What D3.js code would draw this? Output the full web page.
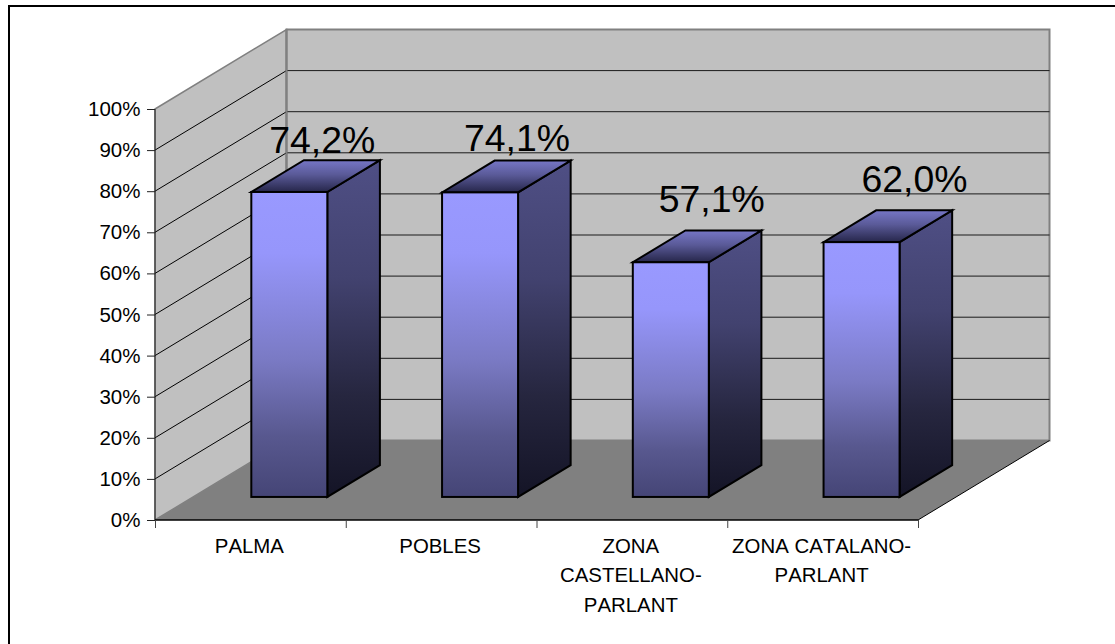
<!DOCTYPE html>
<html><head><meta charset="utf-8">
<script src="https://cdn.jsdelivr.net/npm/d3@7"></script>
<style>html,body{margin:0;padding:0;background:#fff;overflow:hidden}svg{display:block}text{font-family:"Liberation Sans",Arial,sans-serif;fill:#000;font-kerning:none}</style>
</head><body>
<svg id="c" width="1115" height="644"></svg>
<script>
const categories = ["PALMA","POBLES","ZONA CASTELLANO-PARLANT","ZONA CATALANO-PARLANT"];
const categoryLines = [["PALMA"],["POBLES"],["ZONA","CASTELLANO-","PARLANT"],["ZONA CATALANO-","PARLANT"]];
const values = [74.2,74.1,57.1,62.0];
const valueLabels = ["74,2%","74,1%","57,1%","62,0%"];
const yTicks = [0,10,20,30,40,50,60,70,80,90,100];
const labelShiftX = [33,37,41,53];
const labelShiftY = [-39,-41,-50,-50];

const svg = d3.select("#c");
const x = d3.scaleBand().domain(categories).range([155,918]);
const xEdge = d3.scaleLinear().domain([0,categories.length]).range([155,918]);
const y = d3.scaleLinear().domain([0,100]).range([520,109]);
const depthX = 131.5, depthY = 79.5;
const barW = 76, barDepth = 0.29, barThick = 0.4;
const pts = a => a.map(p => p.join(",")).join(" ");

const defs = svg.append("defs");
function grad(id, stops){
  const g = defs.append("linearGradient").attr("id",id).attr("x1",0).attr("y1",0).attr("x2",0).attr("y2",1);
  stops.forEach(s => g.append("stop").attr("offset",s[0]).attr("stop-color",s[1]));
}
grad("front",[[0,"#9999ff"],[0.2,"#9696fb"],[0.55,"#7a7ac4"],[0.8,"#58588f"],[1,"#454576"]]);
grad("side",[[0,"#4f4f85"],[0.35,"#42426f"],[0.7,"#26263f"],[1,"#141426"]]);
grad("top",[[0,"#7676c6"],[0.45,"#5a5a98"],[1,"#26264a"]]);

// frame (runs off the right and bottom of the picture)
svg.append("rect").attr("x",9).attr("y",6).attr("width",1140).attr("height",680)
  .attr("fill","#fff").attr("stroke","#000").attr("stroke-width",2);

// walls and floor
const bx0 = 155+depthX, bx1 = 918+depthX;
svg.append("polygon").attr("points",pts([[155,y(100)],[bx0,y(100)-depthY],[bx0,y(0)-depthY],[155,y(0)]]))
  .attr("fill","#c0c0c0").attr("stroke","#808080").attr("stroke-width",1.5);
svg.append("rect").attr("x",bx0).attr("y",y(100)-depthY).attr("width",bx1-bx0).attr("height",y(0)-y(100))
  .attr("fill","#c0c0c0").attr("stroke","#808080").attr("stroke-width",2);

// gridlines
yTicks.filter(t => t>0 && t<100).forEach(t => {
  svg.append("line").attr("x1",155).attr("y1",y(t)).attr("x2",bx0).attr("y2",y(t)-depthY).attr("stroke","#000").attr("stroke-width",1);
  svg.append("line").attr("x1",bx0).attr("y1",y(t)-depthY).attr("x2",bx1).attr("y2",y(t)-depthY).attr("stroke","#1a1a1a").attr("stroke-width",1);
});
svg.append("line").attr("x1",bx0).attr("y1",y(100)-depthY).attr("x2",bx0).attr("y2",y(0)-depthY).attr("stroke","#808080").attr("stroke-width",2);

// floor
svg.append("polygon").attr("points",pts([[155,y(0)],[918,y(0)],[bx1,y(0)-depthY],[bx0,y(0)-depthY]])).attr("fill","#808080");
svg.append("line").attr("x1",918).attr("y1",y(0)).attr("x2",bx1).attr("y2",y(0)-depthY).attr("stroke","#000").attr("stroke-width",1);

// axes
const yAxis = d3.axisLeft(y).tickValues(yTicks).tickSize(8).tickFormat("");
const gy = svg.append("g").attr("transform","translate(155,0)").call(yAxis);
gy.select(".domain").attr("d",`M0,${y(100)}V${y(0)}`).attr("stroke","#222");
gy.selectAll(".tick line").attr("stroke","#222");
const xAxis = d3.axisBottom(xEdge).tickValues(d3.range(categories.length+1)).tickSize(8).tickFormat("");
const gx = svg.append("g").attr("transform",`translate(0,${y(0)})`).call(xAxis);
gx.select(".domain").attr("d","M155,0H918").attr("stroke","#000").attr("stroke-width",1.5);
gx.selectAll(".tick line").attr("stroke","#444");

svg.selectAll(".yl").data(yTicks).join("text").attr("class","yl")
  .attr("x",140.5).attr("y",t => y(t)+7).attr("text-anchor","end").attr("font-size",20.5).text(t => t+"%");

categories.forEach((c,i) => {
  categoryLines[i].forEach((ln,k) => {
    svg.append("text").attr("x",x(c)+x.bandwidth()/2-1).attr("y",553+k*29.3)
      .attr("text-anchor","middle").attr("font-size",20.4).text(ln);
  });
});

// bars
const offX = barDepth*depthX, offY = barDepth*depthY;
const sideX = barThick*depthX, sideY = barThick*depthY;
categories.forEach((c,i) => {
  const l = x(c)+x.bandwidth()/2-barW/2+offX+0.8, r = l+barW;
  const b = y(0)-offY, t = b-(y(0)-y(values[i]));
  const g = svg.append("g").attr("stroke","#000").attr("stroke-width",2).attr("stroke-linejoin","miter");
  g.append("polygon").attr("points",pts([[r,t],[r+sideX,t-sideY],[r+sideX,b-sideY],[r,b]])).attr("fill","url(#side)");
  g.append("polygon").attr("points",pts([[l,t],[r,t],[r+sideX,t-sideY],[l+sideX,t-sideY]])).attr("fill","url(#top)");
  g.append("rect").attr("x",l).attr("y",t).attr("width",barW).attr("height",b-t).attr("fill","url(#front)");
  svg.append("text").attr("x",l+barW/2+labelShiftX[i]).attr("y",t+labelShiftY[i])
    .attr("text-anchor","middle").attr("font-size",37.4).text(valueLabels[i]);
});
</script>
</body></html>
